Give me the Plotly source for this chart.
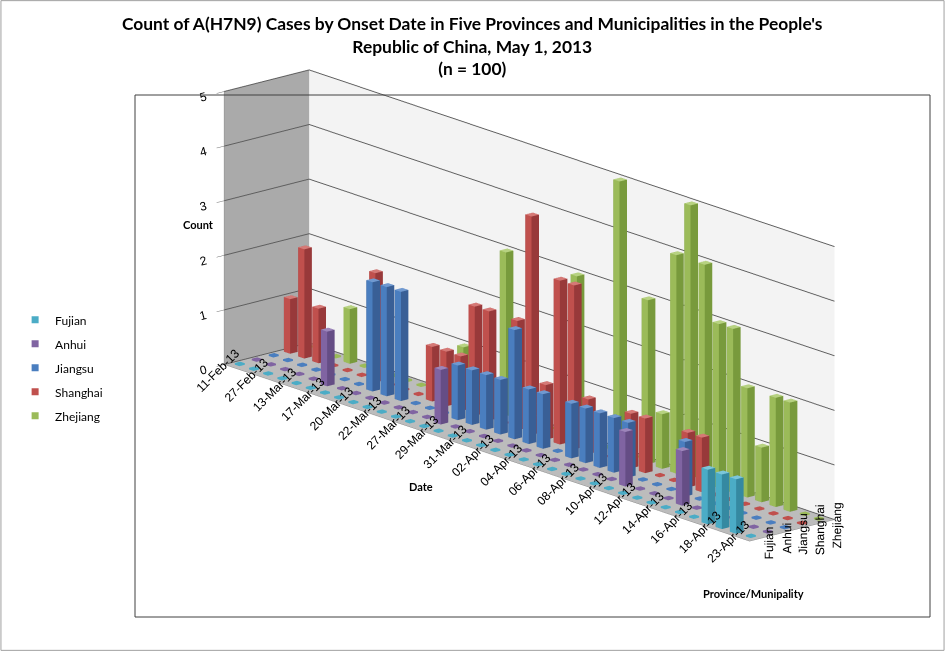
import plotly.graph_objects as go

# onset dates (only every other one is labelled in the chart)
dates = ["11-Feb-13", "19-Feb-13", "27-Feb-13", "07-Mar-13", "13-Mar-13", "15-Mar-13",
         "17-Mar-13", "19-Mar-13", "20-Mar-13", "21-Mar-13", "22-Mar-13", "25-Mar-13",
         "27-Mar-13", "28-Mar-13", "29-Mar-13", "30-Mar-13", "31-Mar-13", "01-Apr-13",
         "02-Apr-13", "03-Apr-13", "04-Apr-13", "05-Apr-13", "06-Apr-13", "07-Apr-13",
         "08-Apr-13", "09-Apr-13", "10-Apr-13", "11-Apr-13", "12-Apr-13", "13-Apr-13",
         "14-Apr-13", "15-Apr-13", "16-Apr-13", "17-Apr-13", "18-Apr-13", "20-Apr-13",
         "23-Apr-13"]

provinces = ["Fujian", "Anhui", "Jiangsu", "Shanghai", "Zhejiang"]

fujian   = [0, 0, 0, 0, 0, 0, 0, 0, 0, 0, 0, 0, 0, 0, 0, 0, 0, 0, 0,
            0, 0, 0, 0, 0, 0, 0, 0, 0, 0, 0, 0, 0, 0, 1, 1, 1, 0]
anhui    = [0, 0, 0, 0, 0, 1, 0, 0, 0, 0, 0, 0, 0, 1, 0, 0, 0, 0, 0,
            0, 0, 0, 0, 0, 0, 0, 1, 0, 0, 0, 1, 0, 0, 0, 0, 0, 0]
jiangsu  = [0, 0, 0, 0, 0, 0, 0, 2, 2, 2, 0, 0, 0, 1, 1, 1, 1, 2, 1,
            1, 0, 1, 1, 1, 1, 1, 0, 0, 0, 1, 0, 0, 0, 0, 0, 0, 0]
shanghai = [1, 2, 1, 0, 0, 0, 2, 0, 0, 0, 1, 1, 1, 2, 2, 0, 2, 4, 1,
            3, 3, 1, 0, 0, 1, 1, 0, 0, 1, 1, 0, 0, 0, 0, 0, 0, 0]
zhejiang = [0, 0, 0, 1, 0, 0, 0, 0, 0, 0, 0, 1, 0, 0, 3, 0, 0, 0, 0,
            3, 0, 0, 5, 0, 3, 1, 4, 5, 4, 3, 3, 2, 1, 2, 2, 0, 0]

series = [fujian, anhui, jiangsu, shanghai, zhejiang]

# (front face, side face, top) shades for each province
shades = {
    "Fujian":   ("#4bacc6", "#3589a1", "#7cc6da"),
    "Anhui":    ("#8064a2", "#654d85", "#9d86bb"),
    "Jiangsu":  ("#4a7ebf", "#395f96", "#7099d0"),
    "Shanghai": ("#c0504d", "#98393a", "#d57976"),
    "Zhejiang": ("#9bbb59", "#789a3c", "#b7d281"),
}

FACES = [(0, 1, 2), (0, 2, 3),      # bottom
         (4, 5, 6), (4, 6, 7),      # top
         (0, 1, 5), (0, 5, 4),      # front (-y)
         (3, 2, 6), (3, 6, 7),      # back (+y)
         (0, 3, 7), (0, 7, 4),      # left (-x)
         (1, 2, 6), (1, 6, 5)]      # right (+x)


def bar_mesh(values, row, name):
    front, side, top = shades[name]
    face_cols = [side, side, top, top, front, front, side, side, side, side, side, side]
    xs, ys, zs, ii, jj, kk, fc = [], [], [], [], [], [], []
    for c, v in enumerate(values):
        if v > 0:
            w, z1 = 0.22, v
            cols = face_cols
        else:
            # zero counts show as a flat tile on the floor
            w, z1 = 0.16, 0.03
            cols = [front] * 12
        n = len(xs)
        for dx, dy, z in [(-w, -w, 0), (w, -w, 0), (w, w, 0), (-w, w, 0),
                          (-w, -w, z1), (w, -w, z1), (w, w, z1), (-w, w, z1)]:
            xs.append(c + dx)
            ys.append(row + dy)
            zs.append(z)
        for (a, b, d), col in zip(FACES, cols):
            ii.append(n + a)
            jj.append(n + b)
            kk.append(n + d)
            fc.append(col)
    return go.Mesh3d(x=xs, y=ys, z=zs, i=ii, j=jj, k=kk, facecolor=fc,
                     flatshading=True, showlegend=False, hoverinfo="skip",
                     lighting=dict(ambient=1.0, diffuse=0.0, specular=0.0,
                                   roughness=1.0, fresnel=0.0))


fig = go.Figure()
for row, (name, vals) in enumerate(zip(provinces, series)):
    fig.add_trace(bar_mesh(vals, row, name))
for name in provinces:
    fig.add_trace(go.Scatter3d(x=[None], y=[None], z=[None], mode="markers", name=name,
                               legendgroup=name,
                               marker=dict(symbol="square", size=7, color=shades[name][0])))

tick_font = dict(family="Liberation Sans", size=12, color="black")
label_font = dict(family="Lato", size=11, color="black")

fig.update_layout(
    width=945, height=651,
    margin=dict(l=0, r=0, t=0, b=0),
    paper_bgcolor="white",
    showlegend=True,
    legend=dict(x=0.016, y=0.531, xanchor="left", yanchor="top", tracegroupgap=5,
                font=dict(family="Lato", size=12, color="black"), bgcolor="rgba(0,0,0,0)"),
    scene=dict(
        domain=dict(x=[0, 1], y=[0, 1]),
        bgcolor="rgba(0,0,0,0)",
        xaxis=dict(range=[-0.5, 36.5], tickvals=list(range(0, len(dates), 2)),
                   ticktext=dates[::2], tickangle=-45, tickfont=tick_font,
                   showline=True, linecolor="#8c8c8c",
                   showgrid=False, zeroline=False, showspikes=False,
                   showbackground=True, backgroundcolor="#aaaaaa", title=dict(text="")),
        yaxis=dict(range=[-0.5, 4.5], tickvals=list(range(len(provinces))),
                   ticktext=provinces, tickangle=-90, tickfont=tick_font,
                   showline=True, linecolor="#8c8c8c",
                   showgrid=False, zeroline=False, showspikes=False,
                   showbackground=True, backgroundcolor="#f3f3f3", title=dict(text="")),
        zaxis=dict(range=[0, 5], dtick=1, tickfont=tick_font,
                   ticks="outside", ticklen=5, tickcolor="#6e6e6e",
                   showline=True, linecolor="#8c8c8c",
                   showgrid=True, gridcolor="#5e5e5e", zeroline=False, showspikes=False,
                   showbackground=True, backgroundcolor="#bcbcbc", title=dict(text="")),
        aspectmode="manual", aspectratio=dict(x=2.46, y=0.346, z=0.877),
        camera=dict(eye=dict(x=1.1258, y=-1.2102, z=0.4385),
                    center=dict(x=-0.1011, y=-0.1436, z=-0.0586),
                    up=dict(x=0, y=0, z=1),
                    projection=dict(type="orthographic")),
    ),
    annotations=[
        dict(text="<b>Count of A(H7N9) Cases by Onset Date in Five Provinces and Municipalities in the People's"
                  "<br>Republic of China, May 1, 2013<br>(n = 100)</b>",
             x=0.5, y=1 - 46 / 651, xref="paper", yref="paper", xanchor="center", yanchor="middle",
             showarrow=False, align="center",
             font=dict(family="Lato", size=17.4, color="black")),
        dict(text="<b>Count</b>", x=181 / 945, y=1 - 225 / 651, xref="paper", yref="paper",
             showarrow=False, font=label_font),
        dict(text="<b>Date</b>", x=421 / 945, y=1 - 495 / 651, xref="paper", yref="paper",
             showarrow=False, font=label_font),
        dict(text="<b>Province/Munipality</b>", x=806 / 945, y=1 - 602 / 651,
             xref="paper", yref="paper", showarrow=False, font=label_font),
    ],
    shapes=[
        dict(type="rect", xref="paper", yref="paper", x0=135 / 945, x1=930 / 945,
             y0=1 - 617 / 651, y1=1 - 95 / 651, line=dict(color="#404040", width=1)),
        dict(type="rect", xref="paper", yref="paper", x0=0.001, x1=0.999, y0=0.001, y1=0.999,
             line=dict(color="#a0a0a0", width=1)),
    ],
)

fig.write_html("out.html", config={"displayModeBar": False},
               post_script="document.body.style.margin='0';")
